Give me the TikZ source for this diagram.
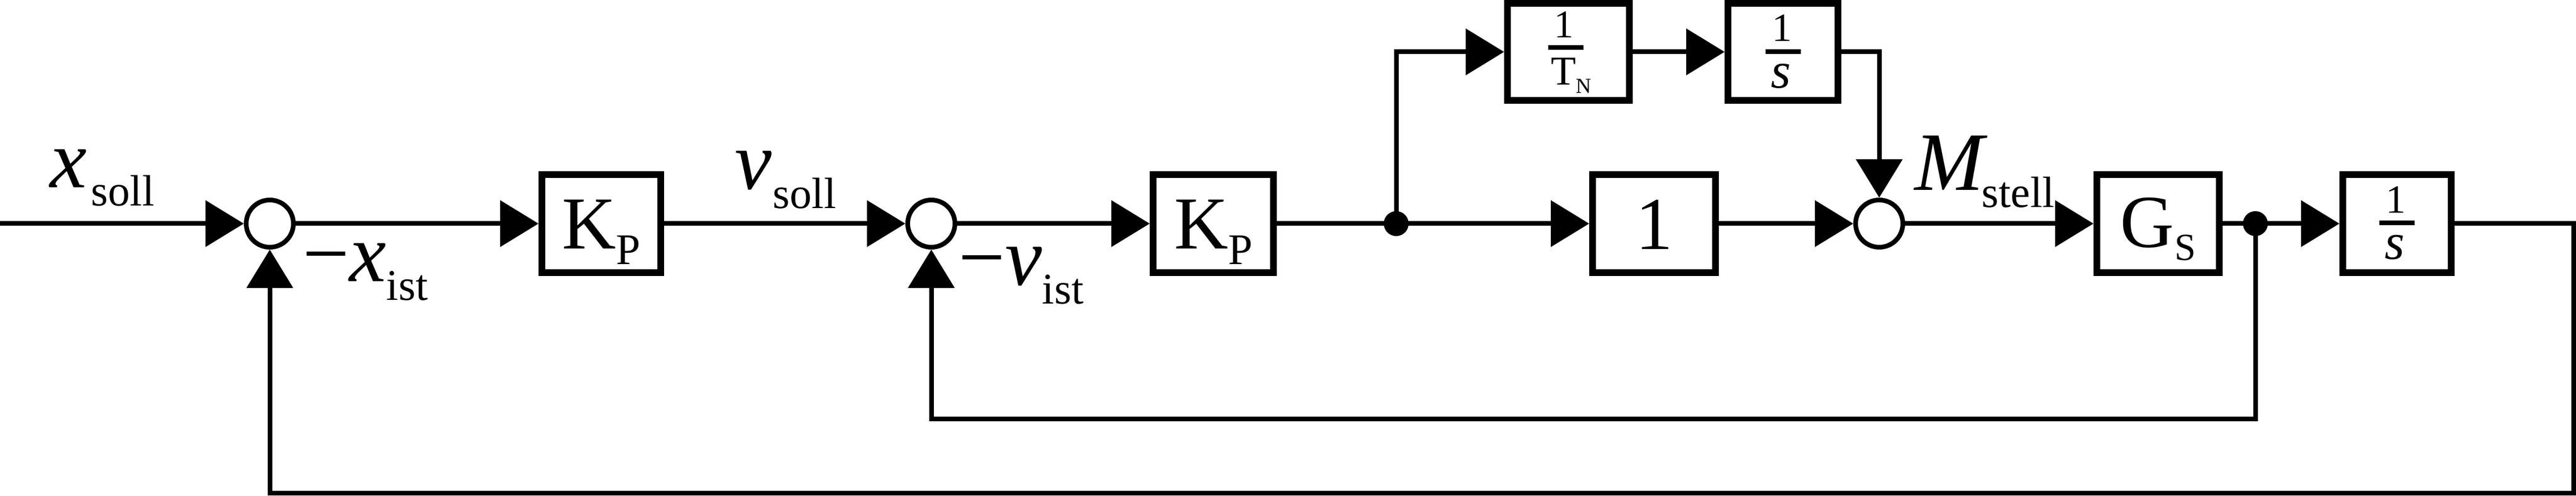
\documentclass[tikz,border=0pt]{standalone}
\usepackage{fontspec}
\setmainfont{Liberation Serif}
\usetikzlibrary{arrows.meta,calc}
\newcommand{\labmain}{\fontsize{45.5}{50}\selectfont}
\newcommand{\labsub}{\fontsize{24}{26}\selectfont}
\tikzset{
  blk/.style={draw, line width=0.13cm, minimum height=1.89cm, inner sep=0pt,
    font=\fontsize{41}{45}\selectfont, text height=0.98cm, text depth=0cm},
  fblk/.style={draw, line width=0.13cm, minimum height=1.87cm, inner sep=0pt},
  sumc/.style={draw, circle, line width=0.09cm, minimum size=0.91cm, inner sep=0pt},
  dotc/.style={fill, circle, minimum size=0.48cm, inner sep=0pt},
  sig/.style={line width=0.09cm, -{Triangle[length=0.74cm,width=0.88cm]}},
  wire/.style={line width=0.09cm},
  lab/.style={anchor=base west, inner sep=0pt},
  fnum/.style={anchor=base, inner sep=0pt, font=\fontsize{22}{23}\selectfont},
  fbar/.style={line width=0.09cm},
}
\begin{document}
\begin{tikzpicture}
\useasboundingbox (0,0) rectangle (49.65,9.55);
% coordinates
\coordinate (in) at (0,5.24);
% summing points
\node[sumc] (s1) at (5.20,5.24) {};
\node[sumc] (s2) at (17.95,5.24) {};
\node[sumc] (s3) at (36.22,5.24) {};
% blocks
\node[blk, minimum width=2.29cm] (kp1) at (11.59,5.24) {K\raisebox{-0.30cm}{\fontsize{24}{26}\selectfont P}};
\node[blk, minimum width=2.32cm] (kp2) at (23.385,5.24) {K\raisebox{-0.30cm}{\fontsize{24}{26}\selectfont P}};
\node[blk, minimum width=2.37cm, text height=1.0cm] (one) at (31.88,5.24) {1};
\node[blk, minimum width=2.36cm, text height=0.92cm] (gs) at (41.595,5.24) {G\raisebox{-0.25cm}{\fontsize{21}{23}\selectfont S}};
\node[fblk, minimum width=2.09cm, minimum height=1.89cm] (is) at (46.20,5.24) {};
\node[fblk, minimum width=2.35cm] (tn) at (30.23,8.55) {};
\node[fblk, minimum width=2.12cm] (it) at (34.365,8.55) {};
% junctions
\node[dotc] (j1) at (26.91,5.24) {};
\node[dotc] (j2) at (43.47,5.24) {};
% fraction contents
\node[fnum, font=\fontsize{21.5}{22}\selectfont] (tnnum) at ($(tn.center)+(-0.085,0.27)$) {1};
\draw[fbar] ($(tn.center)+(-0.39,0.08)$) -- ++(0.68,0);
\node[fnum, font=\fontsize{22.5}{23}\selectfont] (tnden) at ($(tn.center)+(0.05,-0.64)$) {T\raisebox{-0.16cm}{\fontsize{11.7}{12}\selectfont N}};
\node[fnum] (itnum) at ($(it.center)+(-0.02,0.20)$) {1};
\draw[fbar] ($(it.center)+(-0.34,0)$) -- ++(0.68,0);
\node[fnum, font=\fontsize{28}{29}\selectfont\itshape] (itden) at ($(it.center)+(-0.04,-0.70)$) {s};
\node[fnum] (isnum) at ($(is.center)+(-0.02,0.20)$) {1};
\draw[fbar] ($(is.center)+(-0.34,0.01)$) -- ++(0.68,0);
\node[fnum, font=\fontsize{28}{29}\selectfont\itshape] (isden) at ($(is.center)+(-0.04,-0.69)$) {s};
% labels
\node[lab] (lxs) at (0.96,5.93) {\labmain\textit{x}\kern0.08cm\raisebox{-0.35cm}{\labsub soll}};
\node[lab] (lxi) at (5.83,4.12) {\labmain −\textit{x}\raisebox{-0.36cm}{\labsub ist}};
\node[lab] (lvs) at (14.16,5.90) {\labmain\textit{v}\kern0.02cm\raisebox{-0.37cm}{\labsub soll}};
\node[lab] (lvi) at (18.47,4.05) {\labmain −\textit{v}\raisebox{-0.36cm}{\labsub ist}};
\node[lab] (lms) at (36.90,5.88) {\labmain\textit{M}\kern-0.12cm\raisebox{-0.33cm}{\labsub stell}};
% forward path
\draw[sig] (in) -- (s1.west);
\draw[sig] (s1.east) -- (kp1.west);
\draw[sig] (kp1.east) -- (s2.west);
\draw[sig] (s2.east) -- (kp2.west);
\draw[wire] (kp2.east) -- (j1.center);
\draw[sig] (j1.center) -- (one.west);
\draw[sig] (j1.center) |- (tn.west);
\draw[sig] (tn.east) -- (it.west);
\draw[sig] (it.east) -| (s3.north);
\draw[sig] (one.east) -- (s3.west);
\draw[sig] (s3.east) -- (gs.west);
\draw[wire] (gs.east) -- (j2.center);
\draw[sig] (j2.center) -- (is.west);
% feedback loops
\coordinate (fbin) at (0,1.48);
\draw[sig] (j2.center) -- (j2.center |- fbin) -| (s2.south);
\coordinate (outR) at (49.605,5.24);
\coordinate (outB) at (0,0.045);
\draw[sig] (is.east) -- (outR) -- (outR |- outB) -| (s1.south);
\end{tikzpicture}
\end{document}
